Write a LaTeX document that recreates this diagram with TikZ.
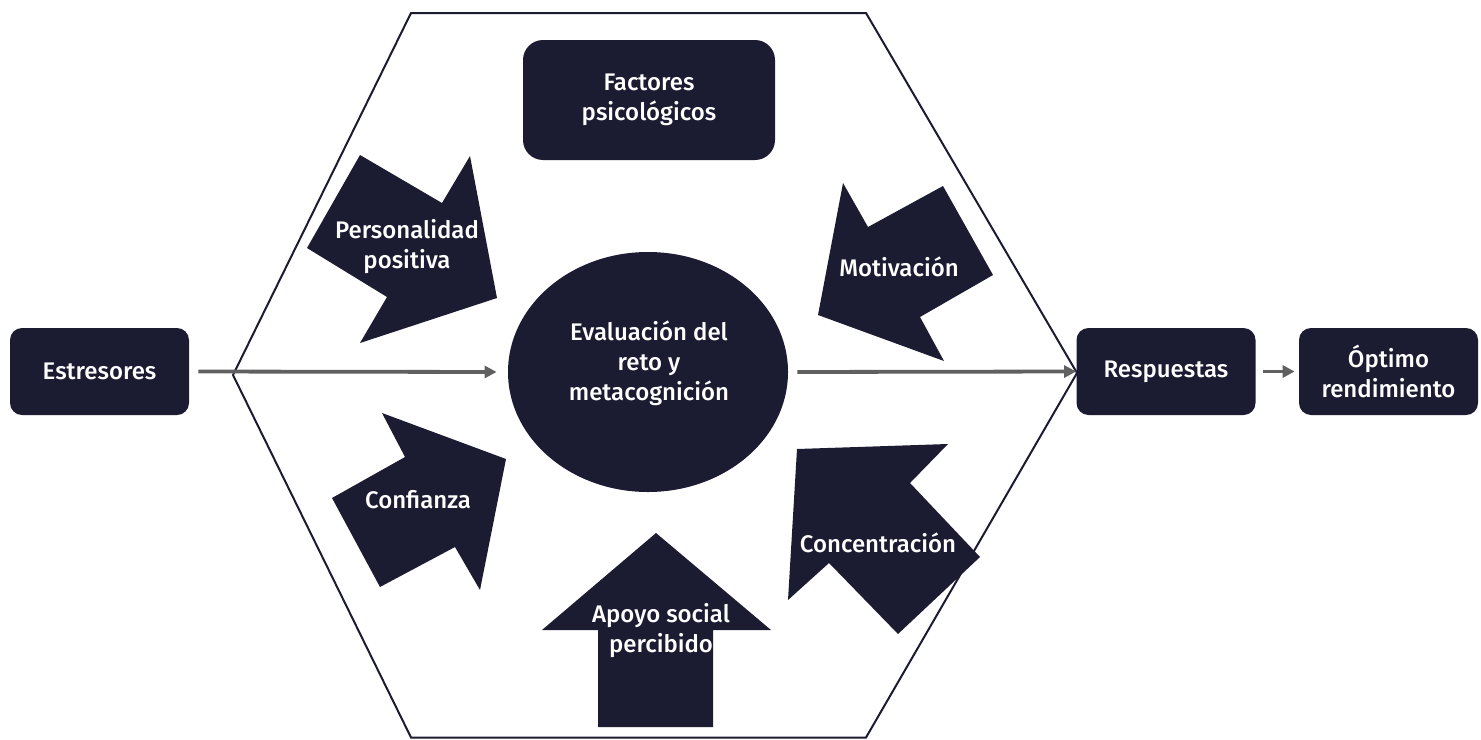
\documentclass[tikz,border=0pt]{standalone}
\usepackage{fontspec}
\setmainfont{Fira Sans Medium}
\usetikzlibrary{shapes.geometric,arrows.meta}
\definecolor{navy}{RGB}{27,27,50}
\definecolor{conngray}{RGB}{96,96,96}
\tikzset{
  lbl/.style={text=white,font=\fontsize{12}{15}\selectfont,align=center,inner sep=0pt},
  box/.style={lbl,fill=navy,rounded corners=6pt,minimum width=89.5pt,minimum height=43.5pt},
  blockarrow/.style={fill=navy},
  hexline/.style={draw=navy,line width=1pt},
  conn/.style={draw=conngray,line width=1.9pt,-{Triangle[length=6pt,width=6pt]}}
}
\begin{document}
\begin{tikzpicture}[x=0.5pt,y=-0.5pt]
\useasboundingbox (0,0) rectangle (1481,739);
% hexagon
\draw[hexline] (411,13) -- (866,13) -- (1077,373) -- (866,737.5) -- (411,737.5) -- (233,375) -- cycle;
% block arrows
\fill[blockarrow] (360,155) -- (442,203) -- (470,156) -- (497,298) -- (360,343) -- (387,297) -- (307,248) -- cycle;
\fill[blockarrow] (843,183) -- (868,227) -- (943,186) -- (993,275) -- (920,317) -- (944,361) -- (818,315) -- cycle;
\fill[blockarrow] (382,413) -- (405,457) -- (332,498) -- (380,587) -- (455,547) -- (480,590) -- (506,459) -- cycle;
\fill[blockarrow] (797,449) -- (948,444) -- (910,483) -- (980,557) -- (898,634) -- (829,563) -- (788,600) -- cycle;
\fill[blockarrow] (656,533) -- (771,630) -- (713,630) -- (713,727) -- (598,727) -- (598,630) -- (542,630) -- cycle;
% labels on block arrows
\node[lbl] (pers) at (407,247) {Personalidad\\positiva};
\node[lbl] (moti) at (899,267) {Motivación};
\node[lbl] (conf) at (418,500) {Confianza};
\node[lbl] (conc) at (878,543) {Concentración};
\node[lbl] (apoyo) at (661,631) {Apoyo social\\percibido};
% boxes
\node[box] (estr) at (99.5,371.5) {Estresores};
\node[box] (resp) at (1166,371.5) {Respuestas};
\node[box] (opt) at (1388.5,371.5) {Óptimo\\rendimiento};
\node[box,rounded corners=10pt,minimum width=126pt,minimum height=60pt] (fact) at (649,100) {Factores\\psicológicos};
% circle
\node[ellipse,fill=navy,minimum width=140pt,minimum height=120pt,inner sep=0pt] (eval) at (648,372) {};
\node[lbl] (evaltext) at (649,363) {Evaluación del\\reto y\\metacognición};
% connectors
\draw[conn,shorten <=4.5pt,shorten >=5.5pt] (estr.east) -- (eval.west);
\draw[conn,shorten <=4.5pt] (eval.east) -- (resp.west);
\draw[conn,shorten <=3.5pt,shorten >=2pt] (resp.east) -- (opt.west);
\end{tikzpicture}
\end{document}
